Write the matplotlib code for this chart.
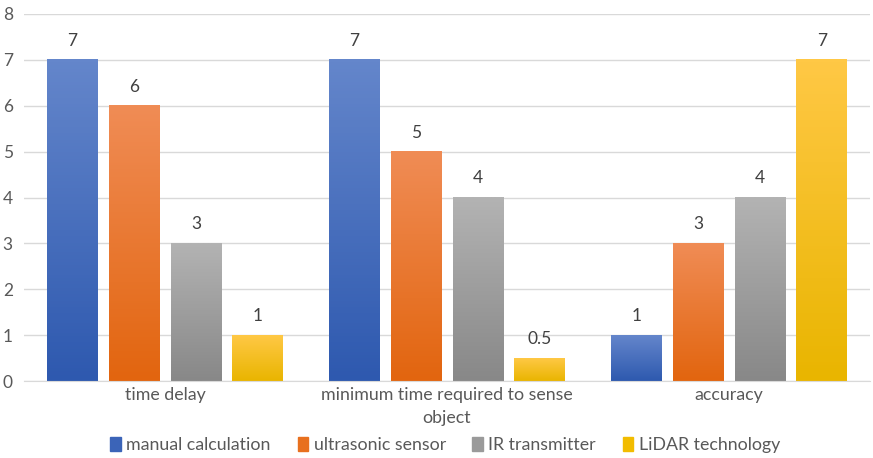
import numpy as np
import matplotlib
matplotlib.use("Agg")
import matplotlib.pyplot as plt
import matplotlib.patches as mpatches
from matplotlib.colors import LinearSegmentedColormap

plt.rcParams['font.family'] = ['Lato', 'DejaVu Sans']

categories = ["time delay", "minimum time required to sense\nobject", "accuracy"]
series_names = ["manual calculation", "ultrasonic sensor", "IR transmitter", "LiDAR technology"]
manual = [7, 7, 1]
ultrasonic = [6, 5, 3]
ir = [3, 4, 4]
lidar = [1, 0.5, 7]
labels = [["7", "7", "1"], ["6", "5", "3"], ["3", "4", "4"], ["1", "0.5", "7"]]

# (top colour, bottom colour, legend colour)
colours = [("#6486CB", "#2E59AF", "#3B64B8"),
           ("#F08C55", "#E2650F", "#E8701E"),
           ("#B3B3B3", "#888888", "#9A9A9A"),
           ("#FFC845", "#E9B500", "#F2BC00")]

fig = plt.figure(figsize=(8.73, 4.58), dpi=100)
ax = fig.add_axes([24 / 873, 1 - 381 / 458, 846 / 873, 367 / 458])

x = np.arange(len(categories))
step = 0.2195
width = 0.18
all_series = [manual, ultrasonic, ir, lidar]

for i, vals in enumerate(all_series):
    offs = (i - 1.5) * step
    bars = ax.bar(x + offs, vals, width=width, color=colours[i][2], zorder=2)
    cmap = LinearSegmentedColormap.from_list("g%d" % i, [colours[i][1], colours[i][0]])
    for b, lab in zip(bars, labels[i]):
        x0, w, h = b.get_x(), b.get_width(), b.get_height()
        grad = np.linspace(0, 1, 100).reshape(-1, 1)
        ax.imshow(grad, extent=(x0, x0 + w, 0, h), origin="lower", cmap=cmap,
                  aspect="auto", zorder=2.5)
        b.set_alpha(0)
        ax.annotate(lab, (x0 + w / 2, h), xytext=(0, 8), textcoords="offset points",
                    ha="center", va="bottom", fontsize=12.5, color="#404040")

ax.set_xlim(-0.5, 2.5)
ax.set_ylim(0, 8)
ax.set_yticks(range(0, 9))
ax.set_xticks(x)
ax.set_xticklabels(categories, fontsize=12.8, color="#595959", linespacing=1.6)
ax.tick_params(axis="y", length=0, labelsize=12.5, labelcolor="#595959", pad=8)
ax.tick_params(axis="x", length=0, pad=4)
ax.grid(axis="y", color="#D9D9D9", linewidth=1, zorder=0)
for s in ["top", "right", "left"]:
    ax.spines[s].set_visible(False)
ax.spines["bottom"].set_color("#D9D9D9")
ax.set_axisbelow(True)

handles = [mpatches.Patch(color=colours[i][2], label=series_names[i]) for i in range(4)]
fig.legend(handles=handles, loc="center", bbox_to_anchor=(0.51, 1 - 445 / 458), ncol=4,
           frameon=False, fontsize=12.8, handlelength=0.6, handleheight=0.8,
           handletextpad=0.3, columnspacing=1.5, labelcolor="#595959")

fig.savefig("out.png", dpi=100)
